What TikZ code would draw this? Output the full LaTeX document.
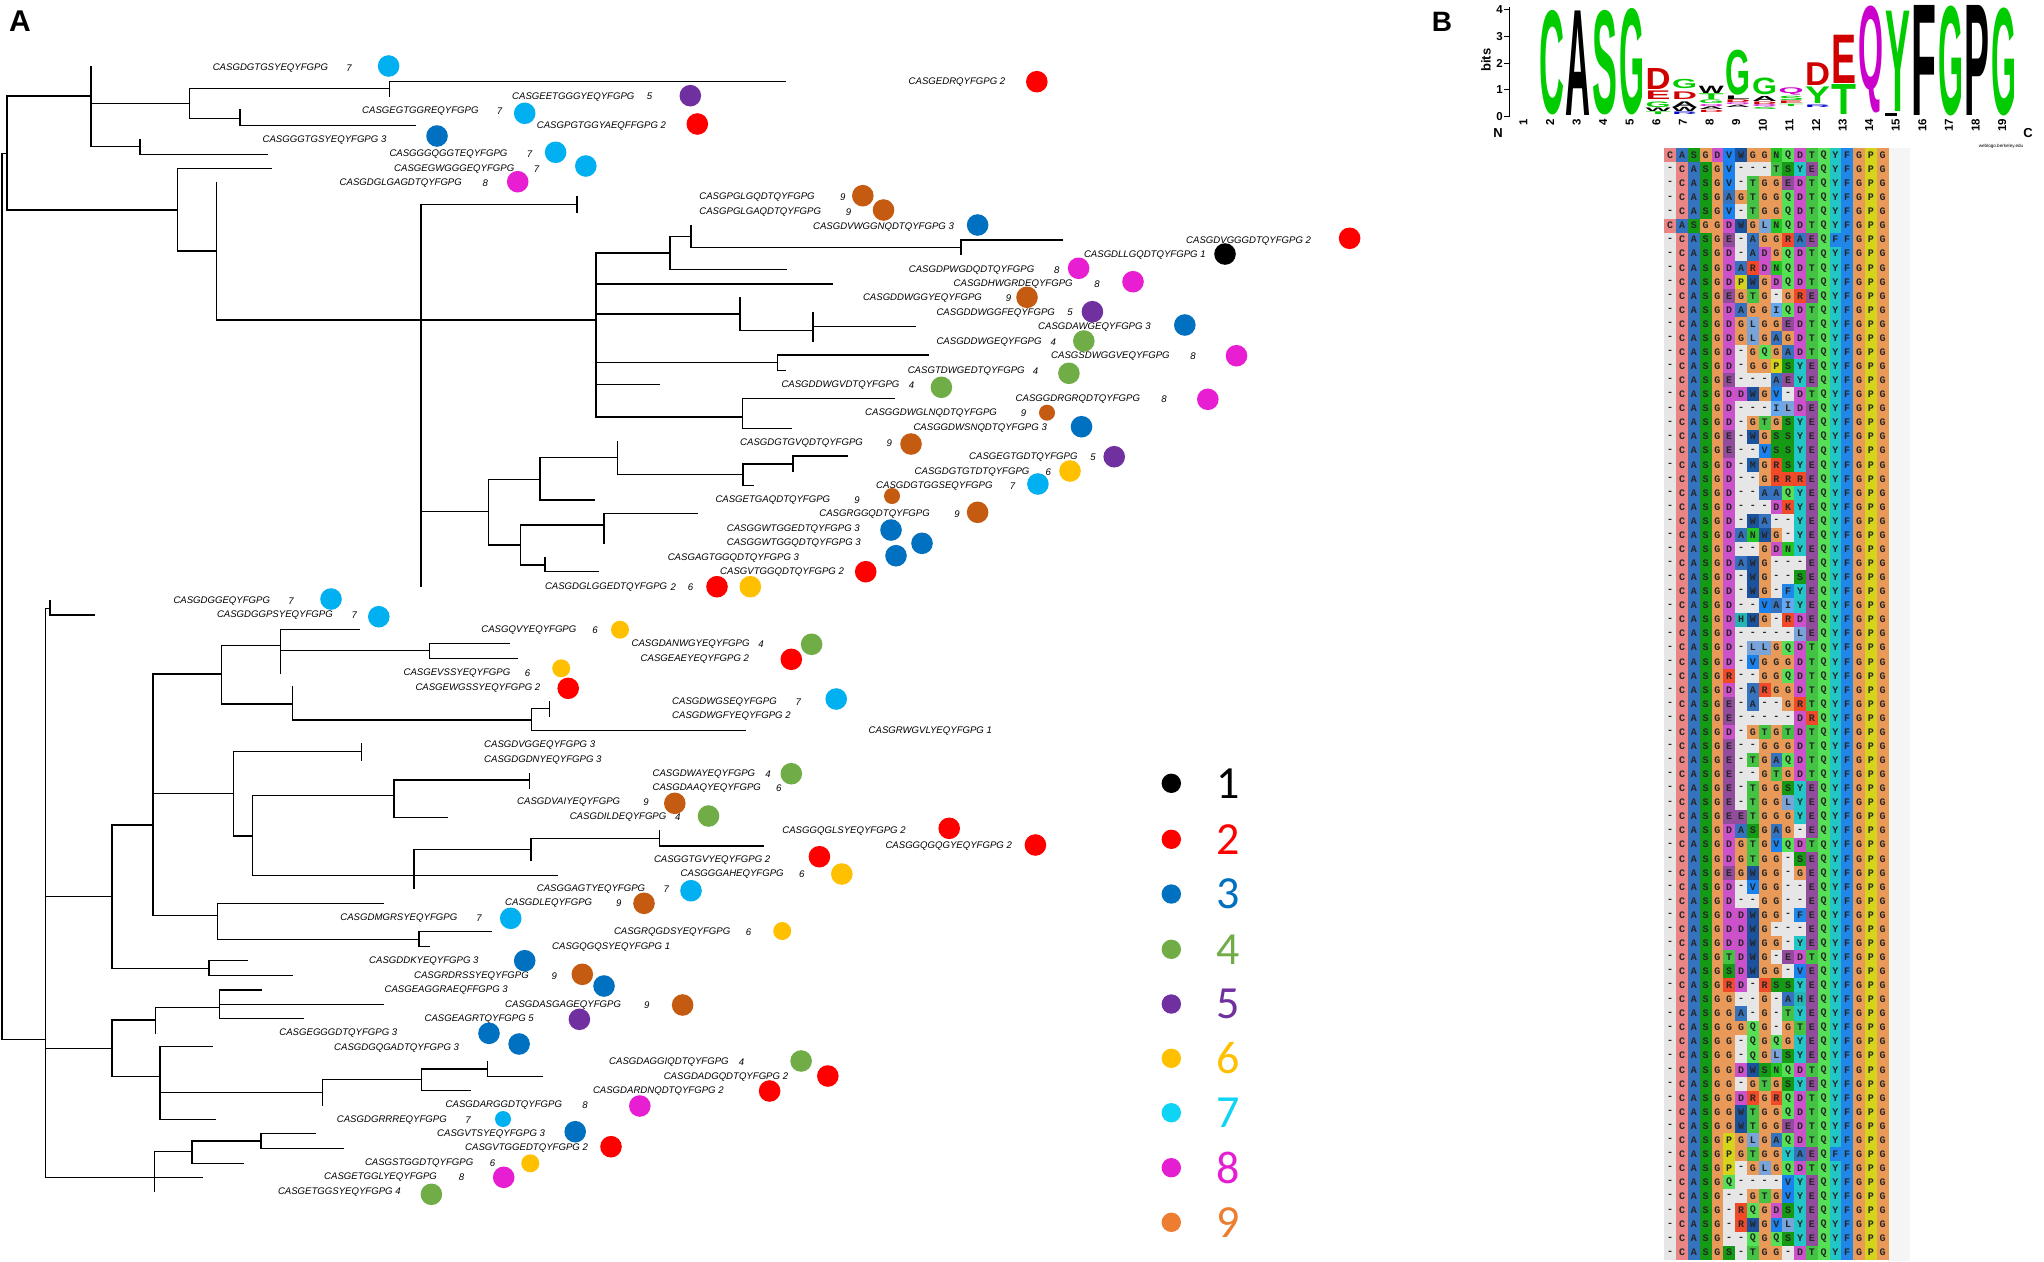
\documentclass[tikz,border=0pt]{standalone}
\usepackage{fontspec}
\setmainfont{Liberation Sans}
\setmonofont{Liberation Mono}
\newfontfamily\legfont{Carlito}
\usepackage{graphicx}
\usepackage{xcolor}
\usepackage{tikz}
% clone colours (tree dots)
\definecolor{c1}{HTML}{000000}
\definecolor{c2}{HTML}{FF0000}
\definecolor{c3}{HTML}{0070C0}
\definecolor{c4}{HTML}{70AD47}
\definecolor{c5}{HTML}{7030A0}
\definecolor{c6}{HTML}{FFC000}
\definecolor{c7}{HTML}{00B0F0}
\definecolor{c8}{HTML}{E81ED2}
\definecolor{c9}{HTML}{C55A11}
% legend colours
\definecolor{g1}{HTML}{000000}
\definecolor{g2}{HTML}{FF0000}
\definecolor{g3}{HTML}{0070C0}
\definecolor{g4}{HTML}{70AD47}
\definecolor{g5}{HTML}{7030A0}
\definecolor{g6}{HTML}{FFC000}
\definecolor{g7}{HTML}{10D4F4}
\definecolor{g8}{HTML}{E61ED2}
\definecolor{g9}{HTML}{ED7D31}
% logo colours
\definecolor{lgreen}{HTML}{00CC00}
\definecolor{lred}{HTML}{D00000}
\definecolor{lmag}{HTML}{CC00CC}
\definecolor{lblue}{HTML}{0000CC}
\definecolor{lblack}{HTML}{000000}
% residue colours
\definecolor{aagap}{HTML}{E6E6E6}
\definecolor{aaC}{HTML}{E98585}
\definecolor{aaA}{HTML}{3573BE}
\definecolor{aaS}{HTML}{149A14}
\definecolor{aaG}{HTML}{E99A58}
\definecolor{aaD}{HTML}{CC52CC}
\definecolor{aaE}{HTML}{914D9C}
\definecolor{aaT}{HTML}{44C244}
\definecolor{aaQ}{HTML}{55E055}
\definecolor{aaY}{HTML}{22C6C6}
\definecolor{aaF}{HTML}{2086E8}
\definecolor{aaP}{HTML}{D4D41A}
\definecolor{aaV}{HTML}{1A82EE}
\definecolor{aaW}{HTML}{1B529E}
\definecolor{aaL}{HTML}{78A4DA}
\definecolor{aaI}{HTML}{64A8F0}
\definecolor{aaM}{HTML}{1A5CA8}
\definecolor{aaN}{HTML}{24C424}
\definecolor{aaR}{HTML}{F04A28}
\definecolor{aaK}{HTML}{F04A28}
\definecolor{aaH}{HTML}{25B5B5}

\def\gapchar{-}
\newcommand{\logoch}[5]{%
  \pgfmathsetmacro\lgx{1539+26.6*(#1-2)}%
  \pgfmathsetmacro\lgh{#3-#2}%
  \node[inner sep=0pt, anchor=south west] (lg#1#4) at (\lgx,#3)
    {\resizebox*{25pt}{\lgh pt}{\color{#5}\bfseries #4}};%
}

\tikzset{
  branch/.style={line width=1.5pt, line cap=rect},
  seq/.style={anchor=west, inner sep=0pt, font=\fontsize{9.6}{11}\selectfont\itshape},
  cnum/.style={inner sep=0pt, font=\fontsize{9.6}{11}\selectfont\itshape},
  res/.style={inner sep=0pt, font=\fontsize{10}{12}\selectfont\ttfamily\bfseries, text=black!85},
  posnum/.style={inner sep=0pt, font=\fontsize{11.5}{12}\selectfont\bfseries},
  legnum/.style={inner sep=0pt, font=\legfont\fontsize{46}{48}\selectfont},
  panel/.style={inner sep=0pt, font=\fontsize{30}{32}\selectfont\bfseries},
}

\begin{document}
\begin{tikzpicture}[x=1pt, y=-1pt]
  \fill[white] (0,0) rectangle (2044,1261);
  \useasboundingbox (0,0) rectangle (2044,1261);

  \node[panel] (panA) at (20,21.5) {A};
  \node[panel, font=\fontsize{28}{30}\selectfont\bfseries] (panB) at (1442,21.7) {B};

  % tree: horizontal branches
  \foreach \xa/\xb/\y in {2/7/153.3, 7/91.2/96, 91.2/189.4/103.7, 189.4/389.3/88.3,
      389.3/785.7/81.7, 189.4/240/118.3, 240/415.3/125.7, 91.2/140/146.7, 140/267.5/154.3,
      7/177.4/210, 177.4/271.6/168.3, 177.4/216.4/251, 216.4/421.2/320, 421.2/577/204.3,
      421.2/595.8/320, 595.8/670/253, 670/690.8/236.7, 690.8/961/247.5, 961/1062.7/240,
      670/786/269.3, 595.8/832/283.8, 595.8/740/314, 740/812.9/330.7, 812.9/915.6/326.7,
      595.8/777.3/362.7, 777.3/928.2/355, 777.3/785.3/370.7, 595.8/659.6/384.3,
      595.8/742.3/417, 742.3/893.8/398.3, 742.3/791.6/428.3, 421.2/488.4/511.7,
      488.4/539.8/479.3, 539.8/617.7/457.5, 617.7/742.8/474.7, 742.8/792.8/464,
      792.8/847.3/456, 742.8/753.7/485.7, 539.8/594/500, 488.4/520.3/545, 520.3/604/525,
      604/697/513.3, 520.3/545.2/565, 545.2/597.8/571.7,
      2/45.6/1039.3, 45.6/49.8/608.3, 49.8/94.5/615, 45.6/112.2/896.5, 112.2/153/825,
      153/221.7/674, 221.7/280.5/645.7, 280.5/359/629.3, 280.5/429.3/650.7,
      429.3/509.3/643.3, 429.3/517.7/658.3, 221.7/292.5/704, 292.5/531.7/720,
      531.7/549.3/708.3, 531.7/745.7/730.7, 153/233.6/793.3, 233.6/361.3/751.7,
      233.6/252.5/836, 252.5/394.2/795.3, 394.2/529.6/780, 394.2/446.9/817.3,
      252.5/557.7/875.7, 413.9/531/849.3, 531/659.4/838.3, 659.4/763.2/846,
      153/217.5/915.7, 217.5/383/903.3, 217.5/418.8/939.3, 418.8/491/931.7,
      418.8/429.3/946.7, 112.2/209/968.3, 209/247/960.7, 209/291.8/975.7,
      45.6/112.2/1048.3, 112.2/155.7/1020, 155.7/219.6/1007.3, 219.6/261.7/990,
      219.6/383/1004.3, 219.6/303/1018.3, 112.2/160/1076.7, 160/211.9/1046.7,
      160/322.7/1092.3, 322.7/421.6/1079.3, 421.6/487.5/1069, 487.5/542.3/1076.7,
      421.6/470/1090.7, 160/215.4/1119.3, 45.6/202/1177.3, 154.3/192.2/1151.7,
      192.2/261/1141, 261/315.7/1133.3, 261/343.7/1148.3, 192.2/243.4/1163.3}
    \draw[branch] (\xa,\y) -- (\xb,\y);
  % tree: vertical branches
  \foreach \x/\ya/\yb in {2/153.3/1039.3, 7/96/210, 91.2/66.7/146.7, 189.4/88.3/118.3,
      389.3/81.7/96.7, 240/110/125.7, 140/139.3/154.3, 177.4/168.3/251, 216.4/182.3/320,
      421.2/204.3/586.7, 577/197/212, 595.8/253/417, 670/236.7/269.3, 690.8/226/247.5,
      961/240/254.5, 740/297.3/330.7, 812.9/312.3/341.7, 777.3/355/370.7,
      742.3/398.3/428.3, 488.4/479.3/545, 539.8/457.5/500, 617.7/442/474.7,
      742.8/464/485.7, 792.8/456/471, 520.3/525/565, 604/513.3/543.3, 545.2/557.3/571.7,
      45.6/608.3/1177.3, 49.8/600.7/615, 112.2/825/968.3, 153/674/915.7,
      221.7/645.7/704, 280.5/629.3/673.3, 429.3/643.3/658.3, 292.5/686.7/720,
      531.7/708.3/730.7, 549.3/701.7/716, 233.6/751.7/836, 361.3/744/760,
      252.5/795.3/875.7, 394.2/780/817.3, 529.6/773.3/788.3, 413.9/849.3/888.3,
      531/838.3/860, 659.4/830.7/846, 217.5/903.3/939.3, 418.8/931.7/946.7,
      209/960.7/975.7, 112.2/1020/1076.7, 155.7/1007.3/1033.3, 219.6/990/1018.3,
      160/1046.7/1119.3, 322.7/1079.3/1105, 421.6/1069/1090.7, 487.5/1061.7/1076.7,
      154.3/1151.7/1191.7, 192.2/1141/1163.3, 261/1133.3/1148.3}
    \draw[branch] (\x,\ya) -- (\x,\yb);

  % leaf labels
  \foreach \t/\lx/\ly [count=\i] in {
      CASGDGTGSYEQYFGPG/212.6/67.7, CASGEDRQYFGPG 2/908.5/81.7,
      CASGEETGGGYEQYFGPG/512/96.7, CASGEGTGGREQYFGPG/362/111,
      CASGPGTGGYAEQFFGPG 2/536.7/125.7, CASGGGTGSYEQYFGPG 3/262.4/140,
      CASGGGQGGTEQYFGPG/389.3/154.3, CASGEGWGGGEQYFGPG/394/168.7,
      CASGDGLGAGDTQYFGPG/339.5/183, CASGPGLGQDTQYFGPG/699.2/197.3,
      CASGPGLGAQDTQYFGPG/699.2/212, CASGDVWGGNQDTQYFGPG 3/812.9/226.7,
      CASGDVGGGDTQYFGPG 2/1186/240.7, CASGDLLGQDTQYFGPG 1/1083.8/255,
      CASGDPWGDQDTQYFGPG/908.7/269.7, CASGDHWGRDEQYFGPG/953.5/284.3,
      CASGDDWGGYEQYFGPG/862.8/298.3, CASGDDWGGFEQYFGPG/936.3/312.7,
      CASGDAWGEQYFGPG 3/1038/327, CASGDDWGEQYFGPG/936.3/341.7,
      CASGSDWGGVEQYFGPG/1051/355.7, CASGTDWGEDTQYFGPG/907.6/370.7,
      CASGDDWGVDTQYFGPG/781.3/385, CASGGDRGRQDTQYFGPG/1015.5/399,
      CASGGDWGLNQDTQYFGPG/865/413.3, CASGGDWSNQDTQYFGPG 3/913.3/428,
      CASGDGTGVQDTQYFGPG/740/442.7, CASGEGTGDTQYFGPG/969/457,
      CASGDGTGTDTQYFGPG/914.5/471.7, CASGDGTGGSEQYFGPG/876/485.7,
      CASGETGAQDTQYFGPG/715.3/500, CASGRGGQDTQYFGPG/819.2/514.3,
      CASGGWTGGEDTQYFGPG 3/726.7/529, CASGGWTGGQDTQYFGPG 3/726.7/543.3,
      CASGAGTGGQDTQYFGPG 3/667.6/557.7, CASGVTGGQDTQYFGPG 2/720/572,
      CASGDGLGGEDTQYFGPG/544.8/586.7, CASGDGGEQYFGPG/173.3/601,
      CASGDGGPSYEQYFGPG/216.8/615.3, CASGQVYEQYFGPG/481.2/629.7,
      CASGDANWGYEQYFGPG/631.4/644.3, CASGEAEYEQYFGPG 2/640.5/658.7,
      CASGEVSSYEQYFGPG/403.4/672.7, CASGEWGSSYEQYFGPG 2/415.3/687.7,
      CASGDWGSEQYFGPG/672/702.3, CASGDWGFYEQYFGPG 2/672/716.3,
      CASGRWGVLYEQYFGPG 1/868.5/730.7, CASGDVGGEQYFGPG 3/484/745.3,
      CASGDGDNYEQYFGPG 3/484/759.7, CASGDWAYEQYFGPG/652.4/773.7,
      CASGDAAQYEQYFGPG/652.4/788, CASGDVAIYEQYFGPG/517/802.3,
      CASGDILDEQYFGPG/569.6/816.7, CASGGQGLSYEQYFGPG 2/782.2/831.3,
      CASGGQGQGYEQYFGPG 2/885.3/846, CASGGTGVYEQYFGPG 2/653.8/860,
      CASGGGAHEQYFGPG/680.5/874.3, CASGGAGTYEQYFGPG/536.7/889,
      CASGDLEQYFGPG/505/903.5, CASGDMGRSYEQYFGPG/340.2/918.3,
      CASGRQGDSYEQYFGPG/613.8/932.3, CASGQGQSYEQYFGPG 1/552/946.7,
      CASGDDKYEQYFGPG 3/369/961, CASGRDRSSYEQYFGPG/413.9/975.7,
      CASGEAGGRAEQFFGPG 3/384.4/990, CASGDASGAGEQYFGPG/505/1004.7,
      CASGEAGRTQYFGPG 5/424.4/1019, CASGEGGGDTQYFGPG 3/279.2/1033.3,
      CASGDGQGADTQYFGPG 3/334/1047.7, CASGDAGGIQDTQYFGPG/609/1062,
      CASGDADGQDTQYFGPG 2/663.6/1076.7, CASGDARDNQDTQYFGPG 2/592.8/1090.7,
      CASGDARGGDTQYFGPG/445.5/1105.3, CASGDGRRREQYFGPG/336.7/1119.7,
      CASGVTSYEQYFGPG 3/437/1134.3, CASGVTGGEDTQYFGPG 2/465/1148.3,
      CASGSTGGDTQYFGPG/364.8/1163.3, CASGETGGLYEQYFGPG/324/1177.3,
      CASGETGGSYEQYFGPG 4/277.8/1191.7}
    \node[seq] (s\i) at (\lx,\ly) {\t};

  % clone numbers set apart from the label
  \foreach \n/\nx/\ny [count=\i] in {7/349/67.7, 5/649.6/96.7, 7/499.5/111,
      7/529.6/154.3, 7/536.6/168.7, 8/485.4/183, 9/842.7/197.3, 9/848.5/212,
      8/1056.8/269.7, 8/1097/284.3, 9/1008.6/298.3, 5/1070/312.7, 4/1053.4/341.7,
      8/1193/355.7, 4/1035.6/370.7, 4/911.6/385, 8/1164/399, 9/1023.5/413.3,
      9/889.2/442.7, 5/1093/457, 6/1048.2/471.7, 7/1012.6/485.7, 9/857/500,
      9/957/514.3, 2/673.4/586.7, 6/690.6/586.7, 7/291/601, 7/354.3/615.3,
      6/595/629.7, 4/761/644.3, 6/527.5/672.7, 7/798.3/702.3, 4/768/773.7,
      6/778.7/788, 9/646/802.3, 4/677.7/816.7, 6/801.8/874.3, 7/666.4/889,
      9/618.7/903.5, 7/479/918.3, 6/748.5/932.3, 9/554.2/975.7, 9/646.8/1004.7,
      4/741.5/1062, 8/585/1105.3, 7/468/1119.7, 6/492.5/1163.3, 8/461.6/1177.3}
    \node[cnum] (n\i) at (\nx,\ny) {\n};

  % coloured dots
  \foreach \dx/\dy/\dc/\dr in {388.6/66/c7/10.8, 1036.8/81.7/c2/10.8,
      690.3/95.7/c5/10.8, 524.7/113.3/c7/10.8, 697.3/124/c2/10.8, 437/136/c3/10.8,
      555.6/152.3/c7/10.8, 585.8/166/c7/10.8, 517.7/181.7/c8/10.8,
      862.8/195.7/c9/10.8, 883.5/210/c9/10.8, 977.6/225/c3/10.8,
      1349.6/238.3/c2/10.8, 1225/254/c1/10.8, 1078.6/268.3/c8/10.8,
      1133/281.7/c8/10.8, 1027/297.3/c9/10.8, 1092.4/311.7/c5/10.8,
      1184.8/325/c3/10.8, 1083.8/341/c4/10.8, 1236.5/355.7/c8/10.8,
      1068.9/373.3/c4/10.8, 941.4/387.3/c4/10.8, 1207.8/399.3/c8/10.8,
      1047/412.7/c9/8, 1081.5/426.7/c3/10.8, 911/444/c9/10.8, 1114.2/456.7/c5/10.8,
      1070/471/c6/10.8, 1037.9/484/c7/10.8, 892/496/c9/8, 977.6/512.3/c9/10.8,
      891/530/c3/10.8, 922/543.3/c3/10.8, 896/555.7/c3/10.8, 865.7/571.7/c2/10.8,
      717/586.7/c2/10.8, 750.3/586.7/c6/10.8, 331/599/c7/10.8, 378.8/616.7/c7/10.8,
      620/629.7/c6/9, 811.6/644.3/c4/10.8, 791.3/659.3/c2/10.8, 561.2/668.3/c6/9,
      568.2/688.3/c2/10.8, 836.2/699/c7/10.8, 791.3/773.7/c4/10.8,
      674.8/803.3/c9/10.8, 708.5/816/c4/10.8, 949.2/828.3/c2/10.8,
      1035.4/845/c2/10.8, 819.4/856.7/c2/10.8, 841.8/874/c6/10.8,
      691/890.7/c7/10.8, 644/903.3/c9/10.8, 510.7/918.3/c7/10.8, 782.2/931/c6/9,
      524.7/960.7/c3/10.8, 582.3/974.3/c9/10.8, 604/986/c3/10.8,
      682.6/1005/c9/10.8, 579.4/1019.3/c5/10.8, 489/1033.3/c3/10.8,
      519.1/1044/c3/10.8, 801.1/1061/c4/10.8, 827.8/1076/c2/10.8,
      769.6/1091/c2/10.8, 639.8/1106/c8/10.8, 503/1119/c7/8, 575.2/1131.7/c3/10.8,
      611/1146.7/c2/10.8, 530.3/1163.3/c6/9, 503.7/1177.3/c8/10.8,
      431.4/1194.3/c4/10.8}
    \fill[fill=\dc] (\dx,\dy) circle (\dr pt);

  % legend
  \foreach \k/\yy/\cl in {1/783.3/g1, 2/839.3/g2, 3/894/g3, 4/949.3/g4, 5/1004/g5,
      6/1058.3/g6, 7/1112.7/g7, 8/1167.7/g8, 9/1222.3/g9}{
    \fill[fill=\cl] (1171.3,\yy) circle (9.7pt);
    \node[legnum, text=\cl] (leg\k) at (1228,\yy) {\k};
  }

  % sequence logo
  \draw[line width=1pt] (1509,7) -- (1509,117);
  \foreach \b in {0,...,4}{
    \draw[line width=1pt] (1504,{116.7-26.85*\b}) -- (1509,{116.7-26.85*\b});
    \node[posnum, anchor=east] (tk\b) at (1503,{116.7-26.85*\b}) {\b};
  }
  \node[posnum, rotate=90, font=\fontsize{13}{14}\selectfont\bfseries] (bits) at (1486,60) {bits};
  \foreach \p in {1,...,19}
    \node[posnum, rotate=90, anchor=east] (pn\p) at ({1550+26.6*(\p-2)},119) {\p};
  \node[posnum, font=\fontsize{13}{14}\selectfont\bfseries] (endN) at (1498,133) {N};
  \node[posnum, font=\fontsize{13}{14}\selectfont\bfseries] (endC) at (2028,133) {C};
  \node[inner sep=0pt, font=\fontsize{4.6}{5}\selectfont] (wl) at (2001,146) {weblogo.berkeley.edu};

  \logoch{2}{11}{115.5}{C}{lgreen}
  \logoch{3}{11}{115.5}{A}{lblack}
  \logoch{4}{11}{115.5}{S}{lgreen}
  \logoch{5}{9}{115.5}{G}{lgreen}
  \logoch{6}{68.3}{89.3}{D}{lred}
  \logoch{6}{90.7}{99.3}{E}{lred}
  \logoch{6}{101.7}{107.3}{G}{lgreen}
  \logoch{6}{108}{111.5}{W}{lblack}
  \logoch{6}{111.8}{114.5}{T}{lgreen}
  \logoch{7}{80}{89.3}{G}{lgreen}
  \logoch{7}{91.7}{99.3}{D}{lred}
  \logoch{7}{101.7}{107.3}{A}{lblack}
  \logoch{7}{107.5}{111.7}{W}{lblack}
  \logoch{7}{112}{114.5}{R}{lblue}
  \logoch{8}{86}{93.3}{W}{lblack}
  \logoch{8}{94.3}{100}{T}{lgreen}
  \logoch{8}{100.3}{104}{G}{lgreen}
  \logoch{8}{104.5}{107}{Q}{lmag}
  \logoch{8}{107.3}{110}{A}{lblack}
  \logoch{8}{110.3}{112.5}{D}{lred}
  \logoch{9}{50}{95}{G}{lgreen}
  \logoch{9}{96.5}{100}{L}{lblack}
  \logoch{9}{100.3}{103}{D}{lred}
  \logoch{9}{103.3}{105.5}{Q}{lmag}
  \logoch{9}{105.8}{108}{A}{lblack}
  \logoch{10}{78.3}{95}{G}{lgreen}
  \logoch{10}{96.7}{101.7}{A}{lblack}
  \logoch{10}{102}{104.5}{D}{lred}
  \logoch{10}{104.8}{107.3}{Q}{lmag}
  \logoch{10}{107.5}{109.5}{S}{lgreen}
  \logoch{11}{87.7}{95}{Q}{lmag}
  \logoch{11}{96.7}{101}{S}{lgreen}
  \logoch{11}{101.5}{104}{E}{lred}
  \logoch{11}{104.3}{106.5}{T}{lgreen}
  \logoch{12}{63.3}{86}{D}{lred}
  \logoch{12}{86.7}{103.3}{Y}{lgreen}
  \logoch{12}{105}{107.5}{R}{lblue}
  \logoch{13}{35}{83.3}{E}{lred}
  \logoch{13}{85}{115}{T}{lgreen}
  \logoch{14}{6}{113}{Q}{lmag}
  \logoch{15}{11.7}{112}{Y}{lgreen}
  \fill[lblack] (1884.8,113) rectangle (1897,115.5);
  \logoch{16}{6}{116}{F}{lblack}
  \logoch{17}{6}{116}{G}{lgreen}
  \logoch{18}{6}{116}{P}{lblack}
  \logoch{19}{8}{116}{G}{lgreen}

  % alignment
  \fill[black!4] (1888,148) rectangle (1910,1261);
  \foreach \row [count=\j from 0] in {
      {C,A,S,G,D,V,W,G,G,N,Q,D,T,Q,Y,F,G,P,G},
      {-,C,A,S,G,V,-,-,-,T,S,Y,E,Q,Y,F,G,P,G},
      {-,C,A,S,G,V,-,T,G,G,E,D,T,Q,Y,F,G,P,G},
      {-,C,A,S,G,A,G,T,G,G,Q,D,T,Q,Y,F,G,P,G},
      {-,C,A,S,G,V,-,T,G,G,Q,D,T,Q,Y,F,G,P,G},
      {C,A,S,G,G,D,W,G,L,N,Q,D,T,Q,Y,F,G,P,G},
      {-,C,A,S,G,E,-,A,G,G,R,A,E,Q,F,F,G,P,G},
      {-,C,A,S,G,D,-,A,D,G,Q,D,T,Q,Y,F,G,P,G},
      {-,C,A,S,G,D,A,R,D,N,Q,D,T,Q,Y,F,G,P,G},
      {-,C,A,S,G,D,P,W,G,D,Q,D,T,Q,Y,F,G,P,G},
      {-,C,A,S,G,E,G,T,G,-,G,R,E,Q,Y,F,G,P,G},
      {-,C,A,S,G,D,A,G,G,I,Q,D,T,Q,Y,F,G,P,G},
      {-,C,A,S,G,D,G,L,G,G,E,D,T,Q,Y,F,G,P,G},
      {-,C,A,S,G,D,G,L,G,A,G,D,T,Q,Y,F,G,P,G},
      {-,C,A,S,G,D,-,G,Q,G,A,D,T,Q,Y,F,G,P,G},
      {-,C,A,S,G,D,-,G,G,P,S,Y,E,Q,Y,F,G,P,G},
      {-,C,A,S,G,E,-,-,-,A,E,Y,E,Q,Y,F,G,P,G},
      {-,C,A,S,G,D,D,W,G,V,-,D,T,Q,Y,F,G,P,G},
      {-,C,A,S,G,D,-,-,-,I,L,D,E,Q,Y,F,G,P,G},
      {-,C,A,S,G,D,-,G,T,G,S,Y,E,Q,Y,F,G,P,G},
      {-,C,A,S,G,E,-,W,G,S,S,Y,E,Q,Y,F,G,P,G},
      {-,C,A,S,G,E,-,-,V,S,S,Y,E,Q,Y,F,G,P,G},
      {-,C,A,S,G,D,-,M,G,R,S,Y,E,Q,Y,F,G,P,G},
      {-,C,A,S,G,D,-,-,G,R,R,R,E,Q,Y,F,G,P,G},
      {-,C,A,S,G,D,-,-,A,A,Q,Y,E,Q,Y,F,G,P,G},
      {-,C,A,S,G,D,-,-,-,D,K,Y,E,Q,Y,F,G,P,G},
      {-,C,A,S,G,D,-,W,A,-,-,Y,E,Q,Y,F,G,P,G},
      {-,C,A,S,G,D,A,N,W,G,-,Y,E,Q,Y,F,G,P,G},
      {-,C,A,S,G,D,-,-,G,D,N,Y,E,Q,Y,F,G,P,G},
      {-,C,A,S,G,D,A,W,G,-,-,-,E,Q,Y,F,G,P,G},
      {-,C,A,S,G,D,-,W,G,-,-,S,E,Q,Y,F,G,P,G},
      {-,C,A,S,G,D,-,W,G,-,F,Y,E,Q,Y,F,G,P,G},
      {-,C,A,S,G,D,-,-,V,A,I,Y,E,Q,Y,F,G,P,G},
      {-,C,A,S,G,D,H,W,G,-,R,D,E,Q,Y,F,G,P,G},
      {-,C,A,S,G,D,-,-,-,-,-,L,E,Q,Y,F,G,P,G},
      {-,C,A,S,G,D,-,L,L,G,Q,D,T,Q,Y,F,G,P,G},
      {-,C,A,S,G,D,-,V,G,G,G,D,T,Q,Y,F,G,P,G},
      {-,C,A,S,G,R,-,-,G,G,Q,D,T,Q,Y,F,G,P,G},
      {-,C,A,S,G,D,-,A,R,G,G,D,T,Q,Y,F,G,P,G},
      {-,C,A,S,G,E,-,A,-,-,G,R,T,Q,Y,F,G,P,G},
      {-,C,A,S,G,E,-,-,-,-,-,D,R,Q,Y,F,G,P,G},
      {-,C,A,S,G,D,-,G,T,G,T,D,T,Q,Y,F,G,P,G},
      {-,C,A,S,G,E,-,-,G,G,G,D,T,Q,Y,F,G,P,G},
      {-,C,A,S,G,E,-,T,G,A,Q,D,T,Q,Y,F,G,P,G},
      {-,C,A,S,G,E,-,-,G,T,G,D,T,Q,Y,F,G,P,G},
      {-,C,A,S,G,E,-,T,G,G,S,Y,E,Q,Y,F,G,P,G},
      {-,C,A,S,G,E,-,T,G,G,L,Y,E,Q,Y,F,G,P,G},
      {-,C,A,S,G,E,E,T,G,G,G,Y,E,Q,Y,F,G,P,G},
      {-,C,A,S,G,D,A,S,G,A,G,-,E,Q,Y,F,G,P,G},
      {-,C,A,S,G,D,G,T,G,V,Q,D,T,Q,Y,F,G,P,G},
      {-,C,A,S,G,D,G,T,G,G,-,S,E,Q,Y,F,G,P,G},
      {-,C,A,S,G,E,G,W,G,G,-,G,E,Q,Y,F,G,P,G},
      {-,C,A,S,G,D,-,V,G,G,-,-,E,Q,Y,F,G,P,G},
      {-,C,A,S,G,D,-,-,G,G,-,-,E,Q,Y,F,G,P,G},
      {-,C,A,S,G,D,D,W,G,G,-,F,E,Q,Y,F,G,P,G},
      {-,C,A,S,G,D,D,W,G,-,-,-,E,Q,Y,F,G,P,G},
      {-,C,A,S,G,D,D,W,G,G,-,Y,E,Q,Y,F,G,P,G},
      {-,C,A,S,G,T,D,W,G,-,E,D,T,Q,Y,F,G,P,G},
      {-,C,A,S,G,S,D,W,G,G,-,V,E,Q,Y,F,G,P,G},
      {-,C,A,S,G,R,D,-,R,S,S,Y,E,Q,Y,F,G,P,G},
      {-,C,A,S,G,G,-,-,G,-,A,H,E,Q,Y,F,G,P,G},
      {-,C,A,S,G,G,A,-,G,-,T,Y,E,Q,Y,F,G,P,G},
      {-,C,A,S,G,G,G,Q,G,-,G,T,E,Q,Y,F,G,P,G},
      {-,C,A,S,G,G,-,Q,G,Q,G,Y,E,Q,Y,F,G,P,G},
      {-,C,A,S,G,G,-,Q,G,L,S,Y,E,Q,Y,F,G,P,G},
      {-,C,A,S,G,G,D,W,S,N,Q,D,T,Q,Y,F,G,P,G},
      {-,C,A,S,G,G,-,G,T,G,S,Y,E,Q,Y,F,G,P,G},
      {-,C,A,S,G,G,D,R,G,R,Q,D,T,Q,Y,F,G,P,G},
      {-,C,A,S,G,G,W,T,G,G,Q,D,T,Q,Y,F,G,P,G},
      {-,C,A,S,G,G,W,T,G,G,E,D,T,Q,Y,F,G,P,G},
      {-,C,A,S,G,P,G,L,G,A,Q,D,T,Q,Y,F,G,P,G},
      {-,C,A,S,G,P,G,T,G,G,Y,A,E,Q,F,F,G,P,G},
      {-,C,A,S,G,P,-,G,L,G,Q,D,T,Q,Y,F,G,P,G},
      {-,C,A,S,G,Q,-,-,-,-,V,Y,E,Q,Y,F,G,P,G},
      {-,C,A,S,G,-,-,G,T,G,V,Y,E,Q,Y,F,G,P,G},
      {-,C,A,S,G,-,R,Q,G,D,S,Y,E,Q,Y,F,G,P,G},
      {-,C,A,S,G,-,R,W,G,V,L,Y,E,Q,Y,F,G,P,G},
      {-,C,A,S,G,-,-,Q,G,Q,S,Y,E,Q,Y,F,G,P,G},
      {-,C,A,S,G,S,-,T,G,G,-,D,T,Q,Y,F,G,P,G}}{
    \foreach \c [count=\i from 0] in \row {
      \edef\cc{\c}%
      \ifx\cc\gapchar\def\fc{aagap}\else\edef\fc{aa\c}\fi
      \fill[fill=\fc] ({1664.3+11.8*\i},{148.2+14.07*\j}) rectangle +(11.9,14.17);
      \node[res] (r\j-\i) at ({1670.2+11.8*\i},{155.2+14.07*\j}) {\c};
    }
  }
\end{tikzpicture}
\end{document}
